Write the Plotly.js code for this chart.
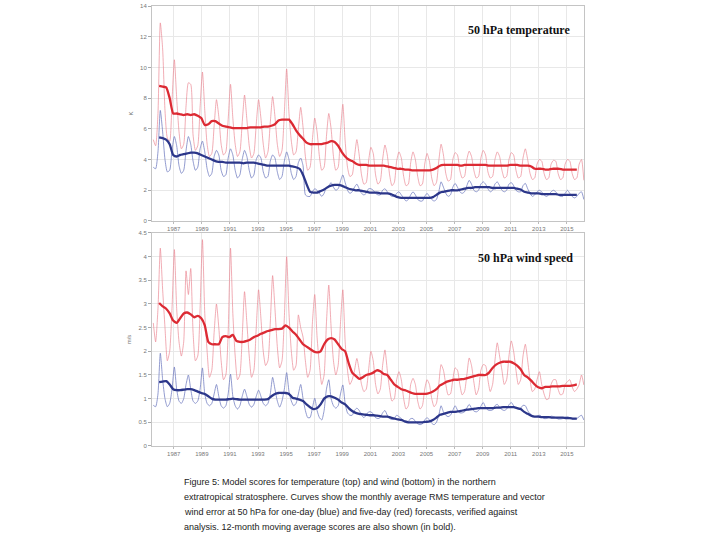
<!DOCTYPE html>
<html>
<head>
<meta charset="utf-8">
<script src="https://cdn.plot.ly/plotly-3.0.1.min.js"></script>
<style>
html,body{margin:0;padding:0;background:#ffffff;}
#chart{width:720px;height:540px;}
</style>
</head>
<body>
<div id="chart"></div>
<script>
// ---------------- DATA ----------------
// Monthly scores sampled every 2 months (Jan, Mar, May, Jul, Sep, Nov), from Jul 1985 to Mar 2016
const thinStart = 1985 + 6.5 / 12;   // Jul 1985
const thinStepMonths = 2;
// 12-month moving averages sampled quarterly (Dec, Mar, Jun, Sep), from Dec 1985 to Sep 2015
const boldStart = 1985 + 11.5 / 12;  // Dec 1985
const boldStepMonths = 3;

const tickYears = [1987, 1989, 1991, 1993, 1995, 1997, 1999, 2001, 2003, 2005, 2007, 2009, 2011, 2013, 2015];

// 50 hPa temperature, five-day forecast (red), RMS error
const tempDay5 = [
  5.3, 4.9, 7.0,
  12.9, 11.2, 7.2, 5.4, 5.2, 7.8,
  10.5, 8.0, 5.8, 4.7, 5.0, 7.5,
  9.0, 8.9, 5.6, 4.6, 4.9, 7.4,
  9.7, 7.2, 5.0, 4.2, 4.4, 6.2,
  7.9, 6.8, 5.0, 4.3, 4.5, 6.6,
  8.9, 6.7, 5.0, 4.2, 4.5, 6.4,
  8.2, 6.6, 4.9, 4.1, 4.4, 6.3,
  7.9, 6.7, 5.0, 4.1, 4.5, 6.4,
  8.1, 6.8, 5.0, 4.2, 4.6, 7.0,
  9.9, 7.0, 5.2, 4.3, 4.5, 6.0,
  7.4, 6.1, 4.2, 3.3, 3.5, 5.3,
  6.7, 5.8, 4.2, 3.3, 3.5, 5.5,
  7.0, 6.0, 4.2, 3.3, 3.5, 5.8,
  7.6, 5.2, 3.5, 2.9, 3.0, 4.2,
  5.3, 4.3, 3.0, 2.4, 2.5, 3.9,
  4.8, 4.4, 3.0, 2.4, 2.6, 4.0,
  4.95, 4.3, 3.0, 2.3, 2.5, 3.9,
  4.5, 4.1, 2.9, 2.3, 2.4, 3.8,
  4.5, 4.0, 2.9, 2.3, 2.4, 3.7,
  4.4, 3.9, 2.8, 2.3, 2.5, 3.9,
  5.0, 4.3, 3.1, 2.6, 2.7, 4.0,
  4.45, 4.3, 3.3, 2.8, 2.9, 4.0,
  4.55, 4.2, 3.3, 2.8, 2.9, 4.1,
  4.6, 4.3, 3.2, 2.8, 2.9, 4.0,
  4.5, 4.2, 3.3, 2.8, 2.9, 4.0,
  4.45, 4.3, 3.3, 2.8, 2.9, 4.1,
  4.7, 4.0, 3.1, 2.7, 2.8, 3.7,
  4.0, 3.9, 3.1, 2.7, 2.8, 3.7,
  3.95, 3.9, 3.1, 2.7, 2.8, 3.7,
  4.0, 3.9, 3.1, 2.7, 2.8, 3.7,
  4.0, 2.65
];

// 50 hPa temperature, one-day forecast (blue)
const tempDay1 = [
  3.5, 3.4, 4.5,
  7.2, 5.8, 4.0, 3.2, 3.3, 4.6,
  5.5, 4.9, 3.6, 3.1, 3.3, 4.6,
  5.5, 5.0, 3.9, 3.3, 3.5, 4.7,
  5.2, 4.5, 3.4, 2.9, 3.1, 4.2,
  4.6, 4.3, 3.3, 2.9, 3.0, 4.1,
  4.7, 4.3, 3.3, 2.8, 3.0, 4.0,
  4.6, 4.2, 3.3, 2.8, 3.0, 4.0,
  4.3, 4.1, 3.2, 2.8, 2.9, 3.9,
  4.3, 4.1, 3.2, 2.7, 2.9, 3.9,
  4.5, 4.0, 3.1, 2.7, 2.9, 3.8,
  4.1, 3.6, 1.7, 1.6, 1.6, 1.9,
  2.1, 2.0, 1.8, 1.6, 1.8, 2.2,
  2.3, 2.5, 2.2, 2.0, 2.1, 2.6,
  3.0, 2.5, 2.0, 1.8, 1.9, 2.2,
  2.4, 2.1, 1.8, 1.7, 1.8, 2.1,
  2.1, 2.0, 1.8, 1.7, 1.7, 2.0,
  2.1, 1.9, 1.7, 1.6, 1.6, 1.8,
  1.9, 1.7, 1.5, 1.3, 1.4, 1.7,
  1.9, 1.7, 1.4, 1.3, 1.3, 1.6,
  1.8, 1.6, 1.4, 1.3, 1.4, 1.9,
  2.55, 2.2, 1.8, 1.6, 1.7, 2.2,
  2.45, 2.2, 1.9, 1.8, 1.9, 2.3,
  2.65, 2.4, 2.0, 1.9, 2.0, 2.4,
  2.55, 2.4, 2.1, 1.9, 2.0, 2.4,
  2.55, 2.3, 2.0, 1.9, 2.0, 2.4,
  2.5, 2.3, 2.0, 1.9, 1.9, 2.3,
  2.45, 2.1, 1.8, 1.6, 1.7, 1.9,
  2.0, 1.9, 1.7, 1.6, 1.7, 1.9,
  2.0, 1.9, 1.7, 1.6, 1.6, 1.8,
  2.0, 1.8, 1.6, 1.5, 1.6, 1.8,
  1.9, 1.4
];

// 12-month moving averages, temperature
const tempDay5Avg = [
  8.8,
  8.75, 8.7, 8.0, 7.0,
  7.0, 6.95, 6.9, 6.95,
  6.9, 6.95, 6.85, 6.7,
  6.25, 6.3, 6.5, 6.5,
  6.35, 6.2, 6.15, 6.1,
  6.05, 6.05, 6.05, 6.05,
  6.05, 6.1, 6.1, 6.1,
  6.1, 6.15, 6.15, 6.2,
  6.3, 6.55, 6.6, 6.6,
  6.6, 6.3, 5.9, 5.6,
  5.35, 5.1, 5.0, 5.0,
  5.0, 5.0, 5.05, 5.1,
  5.2, 5.15, 4.9, 4.5,
  4.2, 4.0, 3.9, 3.75,
  3.65, 3.65, 3.65, 3.6,
  3.6, 3.6, 3.6, 3.6,
  3.55, 3.5, 3.45, 3.4,
  3.4, 3.35, 3.35, 3.3,
  3.3, 3.3, 3.3, 3.3,
  3.3, 3.35, 3.45, 3.6,
  3.65, 3.65, 3.65, 3.65,
  3.65, 3.6, 3.65, 3.65,
  3.65, 3.65, 3.65, 3.65,
  3.65, 3.6, 3.6, 3.6,
  3.6, 3.6, 3.6, 3.65,
  3.65, 3.65, 3.6, 3.6,
  3.6, 3.55, 3.4, 3.4,
  3.4, 3.35, 3.35, 3.4,
  3.4, 3.4, 3.35, 3.35,
  3.35, 3.35, 3.35
];
const tempDay1Avg = [
  5.45,
  5.4, 5.3, 5.0, 4.3,
  4.2, 4.3, 4.35, 4.4,
  4.45, 4.45, 4.4, 4.3,
  4.2, 4.1, 4.0, 3.9,
  3.85, 3.85, 3.8, 3.8,
  3.8, 3.8, 3.8, 3.75,
  3.8, 3.8, 3.8, 3.75,
  3.7, 3.65, 3.6, 3.6,
  3.6, 3.6, 3.6, 3.6,
  3.6, 3.55, 3.5, 3.4,
  3.0, 2.4, 1.9, 1.85,
  1.85, 1.95, 2.05, 2.2,
  2.3, 2.35, 2.35, 2.3,
  2.2, 2.1, 2.05, 2.0,
  2.0, 1.95, 1.9, 1.85,
  1.85, 1.85, 1.8, 1.8,
  1.8, 1.75, 1.65, 1.55,
  1.5, 1.5, 1.5, 1.5,
  1.5, 1.5, 1.5, 1.5,
  1.5, 1.55, 1.7, 1.85,
  1.9, 1.95, 2.0, 2.0,
  2.0, 2.05, 2.1, 2.15,
  2.15, 2.2, 2.2, 2.2,
  2.2, 2.2, 2.15, 2.15,
  2.15, 2.15, 2.15, 2.15,
  2.15, 2.1, 2.05, 1.9,
  1.85, 1.8, 1.8, 1.8,
  1.75, 1.75, 1.75, 1.75,
  1.75, 1.7, 1.7, 1.7,
  1.7, 1.7, 1.7
];

// 50 hPa vector wind, five-day forecast (red)
const windDay5 = [
  2.6, 2.2, 2.9,
  4.18, 3.3, 2.5, 1.8, 2.0, 2.9,
  4.15, 2.9, 2.2, 1.9, 2.2, 3.7,
  3.2, 3.75, 2.4, 1.8, 1.9, 2.9,
  4.36, 2.8, 2.0, 1.45, 1.6, 2.4,
  3.0, 2.5, 1.8, 1.4, 1.5, 2.4,
  4.18, 2.8, 1.9, 1.4, 1.5, 2.3,
  3.26, 2.6, 1.9, 1.45, 1.6, 2.5,
  3.3, 2.7, 2.0, 1.7, 1.8, 2.6,
  3.6, 2.9, 2.1, 1.65, 1.8, 2.7,
  4.0, 2.8, 2.0, 1.6, 1.7, 2.77,
  2.5, 2.3, 1.8, 1.45, 1.6, 2.6,
  3.2, 2.3, 1.7, 1.3, 1.5, 2.6,
  3.4, 2.5, 1.8, 1.5, 1.7, 2.6,
  3.3, 2.2, 1.6, 1.3, 1.4, 1.6,
  1.85, 1.6, 1.3, 1.15, 1.2, 1.6,
  2.0, 1.8, 1.3, 1.1, 1.2, 1.7,
  2.03, 1.6, 1.2, 0.95, 1.0, 1.4,
  1.57, 1.4, 1.0, 0.78, 0.85, 1.3,
  1.43, 1.3, 0.95, 0.78, 0.85, 1.2,
  1.4, 1.3, 1.0, 0.83, 0.9, 1.3,
  1.72, 1.6, 1.3, 1.08, 1.1, 1.4,
  1.65, 1.6, 1.3, 1.08, 1.15, 1.5,
  1.86, 1.7, 1.35, 1.08, 1.2, 1.6,
  1.72, 1.7, 1.4, 1.15, 1.3, 1.8,
  2.18, 1.9, 1.6, 1.3, 1.4, 1.9,
  2.22, 2.0, 1.6, 1.3, 1.4, 1.9,
  2.15, 1.8, 1.4, 1.15, 1.2, 1.4,
  1.57, 1.3, 1.1, 0.98, 1.0, 1.3,
  1.4, 1.4, 1.2, 1.08, 1.1, 1.3,
  1.36, 1.4, 1.25, 1.15, 1.2, 1.3,
  1.5, 1.29
];

// 50 hPa vector wind, one-day forecast (blue)
const windDay1 = [
  0.86, 0.83, 1.1,
  1.96, 1.4, 1.0, 0.83, 0.9, 1.2,
  1.67, 1.2, 0.95, 0.9, 1.0, 1.3,
  1.5, 1.2, 0.95, 0.9, 0.95, 1.2,
  1.65, 1.1, 0.9, 0.85, 0.9, 1.1,
  1.3, 1.05, 0.85, 0.8, 0.85, 1.1,
  1.52, 1.05, 0.85, 0.78, 0.85, 1.05,
  1.2, 1.05, 0.88, 0.82, 0.88, 1.05,
  1.18, 1.05, 0.9, 0.85, 0.9, 1.1,
  1.45, 1.2, 0.95, 0.82, 0.95, 1.2,
  1.55, 1.15, 0.95, 0.85, 0.9, 1.1,
  1.3, 1.0, 0.75, 0.6, 0.6, 0.8,
  1.01, 0.75, 0.6, 0.55, 0.75, 1.2,
  1.4, 1.0, 0.85, 0.8, 0.85, 1.1,
  1.29, 0.9, 0.7, 0.65, 0.65, 0.75,
  0.8, 0.75, 0.65, 0.6, 0.65, 0.72,
  0.72, 0.68, 0.6, 0.58, 0.6, 0.7,
  0.75, 0.65, 0.58, 0.56, 0.58, 0.65,
  0.62, 0.58, 0.52, 0.5, 0.52, 0.58,
  0.58, 0.52, 0.47, 0.45, 0.47, 0.55,
  0.6, 0.55, 0.48, 0.45, 0.5, 0.65,
  0.85, 0.72, 0.65, 0.62, 0.65, 0.75,
  0.85, 0.76, 0.7, 0.7, 0.72, 0.8,
  0.88, 0.8, 0.74, 0.72, 0.75, 0.84,
  0.92, 0.82, 0.76, 0.75, 0.76, 0.85,
  0.88, 0.82, 0.77, 0.75, 0.78, 0.87,
  0.92, 0.85, 0.8, 0.78, 0.8, 0.86,
  0.85, 0.75, 0.68, 0.65, 0.62, 0.63,
  0.65, 0.62, 0.58, 0.58, 0.6, 0.63,
  0.62, 0.6, 0.57, 0.57, 0.58, 0.61,
  0.62, 0.6, 0.57, 0.57, 0.58, 0.62,
  0.65, 0.55
];

// 12-month moving averages, wind
const windDay5Avg = [
  3.02,
  2.95, 2.9, 2.8, 2.65,
  2.6, 2.7, 2.8, 2.82,
  2.78, 2.72, 2.75, 2.7,
  2.55, 2.2, 2.15, 2.15,
  2.15, 2.3, 2.32, 2.3,
  2.35, 2.22, 2.2, 2.2,
  2.22, 2.25, 2.3, 2.33,
  2.37, 2.4, 2.43, 2.45,
  2.47, 2.47, 2.48, 2.55,
  2.5, 2.42, 2.35, 2.25,
  2.15, 2.1, 2.05, 2.0,
  1.98, 2.0, 2.15, 2.25,
  2.28, 2.25, 2.15, 2.05,
  2.0, 1.75, 1.55, 1.48,
  1.42, 1.45, 1.5, 1.52,
  1.55, 1.6, 1.58, 1.52,
  1.5, 1.4, 1.3, 1.25,
  1.2, 1.18, 1.15, 1.12,
  1.1, 1.1, 1.1, 1.1,
  1.12, 1.15, 1.2, 1.28,
  1.32, 1.36, 1.38, 1.4,
  1.4, 1.41, 1.42, 1.44,
  1.46, 1.48, 1.5, 1.5,
  1.5, 1.55, 1.65, 1.72,
  1.76, 1.78, 1.78, 1.78,
  1.75, 1.7, 1.62, 1.5,
  1.45, 1.38, 1.3, 1.24,
  1.22, 1.25, 1.25, 1.26,
  1.26, 1.26, 1.27, 1.27,
  1.27, 1.28, 1.3
];
const windDay1Avg = [
  1.35,
  1.36, 1.37, 1.3, 1.2,
  1.18, 1.18, 1.19, 1.2,
  1.2, 1.18, 1.15, 1.12,
  1.1, 1.05, 1.0, 0.98,
  0.98, 0.98, 0.98, 0.99,
  1.0, 0.99, 0.98, 0.98,
  0.98, 0.98, 0.98, 0.98,
  0.98, 0.98, 0.99, 1.05,
  1.1, 1.12, 1.12, 1.12,
  1.1, 1.02, 1.0, 0.98,
  0.95, 0.88, 0.82, 0.78,
  0.8, 0.88, 1.0, 1.05,
  1.05, 1.02, 0.98, 0.92,
  0.88, 0.8, 0.74, 0.7,
  0.68, 0.67, 0.66, 0.65,
  0.65, 0.64, 0.63, 0.62,
  0.62, 0.6, 0.58, 0.56,
  0.55, 0.52, 0.5, 0.5,
  0.5, 0.5, 0.5, 0.51,
  0.52, 0.55, 0.6, 0.66,
  0.68, 0.7, 0.72, 0.72,
  0.73, 0.74, 0.76, 0.77,
  0.78, 0.79, 0.8, 0.8,
  0.8, 0.8, 0.8, 0.81,
  0.81, 0.82, 0.82, 0.82,
  0.82, 0.8, 0.78, 0.72,
  0.68, 0.64, 0.62, 0.62,
  0.61, 0.61, 0.61, 0.6,
  0.6, 0.6, 0.6, 0.59,
  0.59, 0.58, 0.58
];

const panelTitles = ["50 hPa temperature", "50 hPa wind speed"];
const yTitles = ["K", "m/s"];
const captionLines = [
  "Figure 5: Model scores for temperature (top) and wind (bottom) in the northern",
  "extratropical stratosphere. Curves show the monthly average RMS temperature and vector",
  "wind error at 50 hPa for one-day (blue) and five-day (red) forecasts, verified against",
  "analysis. 12-month moving average scores are also shown (in bold)."
];

// ---------------- BUILD ----------------
function timeAxis(start, stepMonths, n) {
  const t = [];
  for (let i = 0; i < n; i++) t.push(start + i * stepMonths / 12);
  return t;
}
const thinT = timeAxis(thinStart, thinStepMonths, tempDay5.length);
const boldT = timeAxis(boldStart, boldStepMonths, tempDay5Avg.length);

const C_RED_THIN = "rgba(234,128,140,0.72)";
const C_BLUE_THIN = "rgba(112,124,192,0.85)";
const C_RED = "#dc2a33";
const C_BLUE = "#2c378a";

function thin(y, color, ax) {
  return {x: thinT, y: y, type: "scatter", mode: "lines", xaxis: ax[0], yaxis: ax[1],
    line: {color: color, width: 0.9, shape: "spline", smoothing: 0.6}, hoverinfo: "skip", showlegend: false};
}
function bold(y, color, ax) {
  return {x: boldT, y: y, type: "scatter", mode: "lines", xaxis: ax[0], yaxis: ax[1],
    line: {color: color, width: 2.3, shape: "spline", smoothing: 0.5}, hoverinfo: "skip", showlegend: false};
}

const data = [
  thin(tempDay5, C_RED_THIN, ["x", "y"]),
  thin(tempDay1, C_BLUE_THIN, ["x", "y"]),
  bold(tempDay5Avg, C_RED, ["x", "y"]),
  bold(tempDay1Avg, C_BLUE, ["x", "y"]),
  thin(windDay5, C_RED_THIN, ["x2", "y2"]),
  thin(windDay1, C_BLUE_THIN, ["x2", "y2"]),
  bold(windDay5Avg, C_RED, ["x2", "y2"]),
  bold(windDay1Avg, C_BLUE, ["x2", "y2"])
];

const tickFont = {family: "Liberation Sans, Arial, sans-serif", size: 6, color: "#777"};
function xAxisCfg(anchor) {
  return {
    anchor: anchor, domain: [0, 1], range: [1985.45, 2016.22],
    tickmode: "array", tickvals: tickYears, ticktext: tickYears.map(String),
    showgrid: true, gridcolor: "#e8e8e8", gridwidth: 1,
    showline: true, linecolor: "#c4c4c4", linewidth: 1, mirror: true,
    ticks: "outside", ticklen: 2, tickcolor: "#bbb", tickfont: tickFont,
    zeroline: false, fixedrange: true
  };
}
function yAxisCfg(anchor, domain, range, dtick, title) {
  return {
    anchor: anchor, domain: domain, range: range, dtick: dtick, tick0: 0,
    showgrid: true, gridcolor: "#e8e8e8", gridwidth: 1,
    showline: true, linecolor: "#c4c4c4", linewidth: 1, mirror: true,
    ticks: "outside", ticklen: 3, tickcolor: "#aaa", tickfont: tickFont,
    zeroline: false, fixedrange: true,
    title: {text: title, font: {family: "Liberation Sans, Arial, sans-serif", size: 6, color: "#777"}, standoff: 6}
  };
}

const annotations = [
  {xref: "paper", yref: "paper", x: 0.972, y: 0.9455, xanchor: "right", yanchor: "middle",
   text: "<b>" + panelTitles[0] + "</b>", showarrow: false,
   font: {family: "Liberation Serif, Times New Roman, serif", size: 12, color: "#111"}},
  {xref: "paper", yref: "paper", x: 0.979, y: 0.427, xanchor: "right", yanchor: "middle",
   text: "<b>" + panelTitles[1] + "</b>", showarrow: false,
   font: {family: "Liberation Serif, Times New Roman, serif", size: 12, color: "#111"}}
];
const captionY = [482, 497, 512, 527];
captionLines.forEach(function (line, i) {
  annotations.push({
    xref: "paper", yref: "paper", x: (182 - 152) / 432, y: (446 - captionY[i]) / 440,
    xanchor: "left", yanchor: "middle", text: line, showarrow: false,
    font: {family: "Liberation Sans, Arial, sans-serif", size: 9, color: "#222"}
  });
});

const layout = {
  width: 720, height: 540,
  margin: {l: 152, r: 136, t: 6, b: 94, pad: 0},
  paper_bgcolor: "#ffffff", plot_bgcolor: "#ffffff",
  showlegend: false,
  xaxis: xAxisCfg("y"),
  yaxis: yAxisCfg("x", [0.5114, 1], [0, 14], 2, yTitles[0]),
  xaxis2: xAxisCfg("y2"),
  yaxis2: yAxisCfg("x2", [0, 0.4841], [0, 4.5], 0.5, yTitles[1]),
  annotations: annotations
};

Plotly.newPlot("chart", data, layout, {staticPlot: true, displayModeBar: false});
</script>
</body>
</html>
